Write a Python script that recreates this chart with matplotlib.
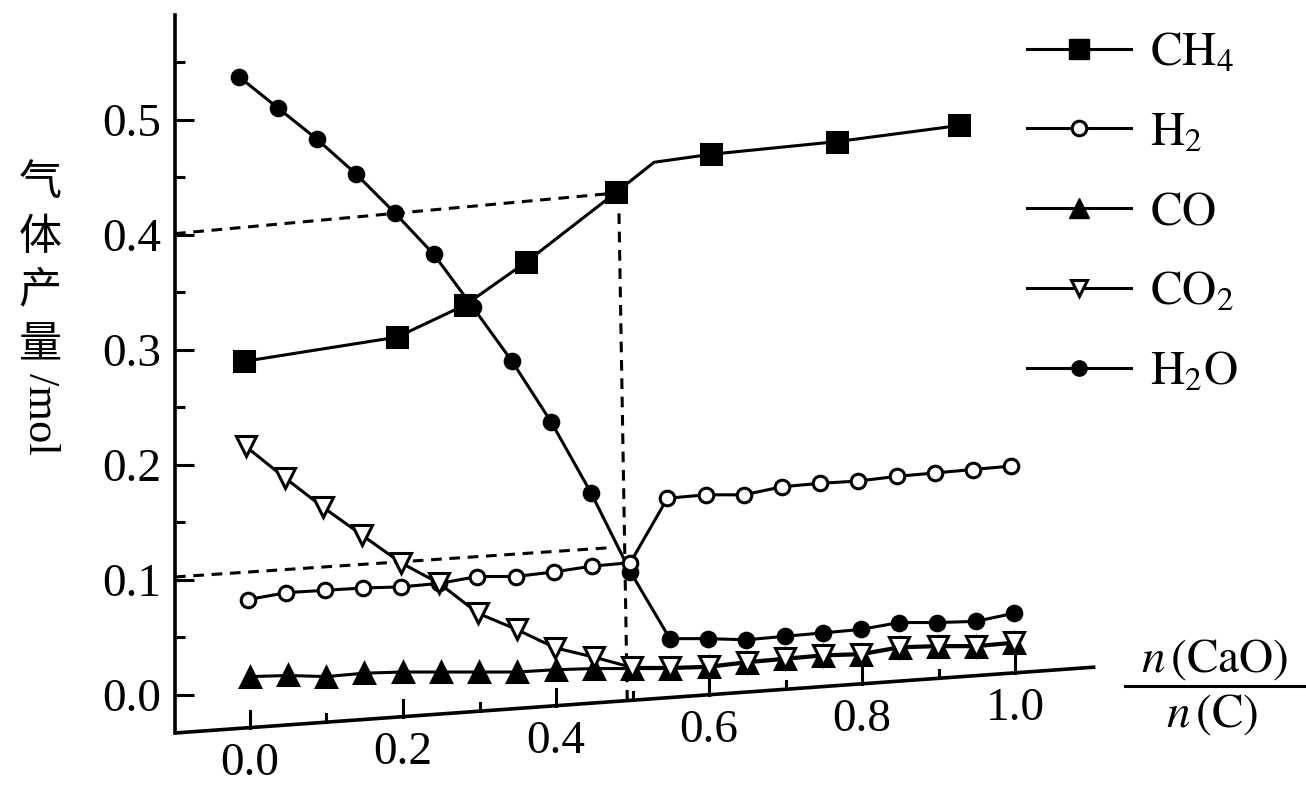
import matplotlib
matplotlib.use('Agg')
import matplotlib.pyplot as plt
from matplotlib.transforms import Affine2D
from matplotlib.lines import Line2D

plt.rcParams['font.family'] = ['Liberation Serif', 'DejaVu Serif']
plt.rcParams['mathtext.fontset'] = 'stix'

# ---------------- data ----------------
ratio = [0.0, 0.05, 0.1, 0.15, 0.2, 0.25, 0.3, 0.35, 0.4, 0.45, 0.5,
         0.55, 0.6, 0.65, 0.7, 0.75, 0.8, 0.85, 0.9, 0.95, 1.0]
h2o = [0.537, 0.510, 0.483, 0.453, 0.419, 0.383, 0.337, 0.290, 0.237, 0.176, 0.107,
       0.049, 0.049, 0.048, 0.051, 0.054, 0.057, 0.063, 0.063, 0.064, 0.071]
co2 = [0.216, 0.189, 0.163, 0.139, 0.115, 0.097, 0.071, 0.057, 0.041, 0.033, 0.024,
       0.024, 0.025, 0.029, 0.032, 0.035, 0.036, 0.042, 0.043, 0.043, 0.046]
h2 = [0.083, 0.089, 0.091, 0.093, 0.094, 0.097, 0.103, 0.103, 0.107, 0.112, 0.115,
      0.171, 0.174, 0.174, 0.181, 0.184, 0.186, 0.190, 0.193, 0.196, 0.199]
co = [0.016, 0.017, 0.016, 0.019, 0.020, 0.020, 0.020, 0.020, 0.022, 0.023, 0.023,
      0.023, 0.024, 0.028, 0.031, 0.034, 0.035, 0.041, 0.042, 0.042, 0.045]
ch4_x = [0.0, 0.2, 0.29, 0.37, 0.49, 0.54, 0.615, 0.78, 0.94]
ch4 = [0.290, 0.311, 0.339, 0.376, 0.437, 0.463, 0.470, 0.481, 0.495]
ch4_marked = [0, 1, 2, 3, 4, 6, 7, 8]

ytick_vals = [0.0, 0.1, 0.2, 0.3, 0.4, 0.5]
xtick_labels = ['0.0', '0.2', '0.4', '0.6', '0.8', '1.0']
xtick_vals = [0.0, 0.2, 0.4, 0.6, 0.8, 1.0]
xtick_all = [0.0, 0.1, 0.2, 0.3, 0.4, 0.5, 0.6, 0.7, 0.8, 0.9, 1.0]
legend_labels = [r'$\mathrm{CH_4}$', r'$\mathrm{H_2}$', r'$\mathrm{CO}$',
                 r'$\mathrm{CO_2}$', r'$\mathrm{H_2O}$']

# ---------------- figure ----------------
W, H = 1306, 786
fig = plt.figure(figsize=(W / 100, H / 100), dpi=100)
fig.patch.set_facecolor('white')
ax = fig.add_axes([175 / W, 1 - 733 / H, (1100 - 175) / W, (733 - 15) / H])
xmin, xmax = -0.098, 1.111
ymin, ymax = -0.033, 0.591
ax.set_xlim(xmin, xmax)
ax.set_ylim(ymin, ymax)

for s in ['top', 'right', 'bottom']:
    ax.spines[s].set_visible(False)
ax.spines['left'].set_linewidth(2.6)
ax.set_xticks([])
ax.set_yticks(ytick_vals)
ax.set_yticklabels([f'{v:.1f}' for v in ytick_vals])
ax.set_yticks([0.05, 0.15, 0.25, 0.35, 0.45, 0.55], minor=True)
ax.tick_params(axis='y', which='major', direction='in', length=14, width=2.2,
               labelsize=34, pad=10)
ax.tick_params(axis='y', which='minor', direction='in', length=7, width=2.2)

# slight horizontal shear of the scanned plot (higher points lean left)
fig.canvas.draw()
y0 = ax.transData.transform((0, 0))[1]
k = 0.017
shear = Affine2D.from_values(1, 0, -k, 1, k * y0, 0)
tr = ax.transData + shear

# slanted x baseline
def base(x):
    return -0.033 + (0.0243 + 0.033) / (1.105 - xmin) * (x - xmin)

ax.plot([xmin, 1.105], [base(xmin), base(1.105)], color='black', lw=2.6,
        clip_on=False, solid_capstyle='butt')
for xv in xtick_all:
    L = 0.0148 if round(xv * 10) % 2 == 0 else 0.007
    ax.plot([xv, xv], [base(xv), base(xv) + L], color='black', lw=2.2, clip_on=False)
for xv, lab in zip(xtick_vals, xtick_labels):
    ax.text(xv, base(xv) - 0.031, lab, fontsize=34, ha='center', va='center')

# dashed guide lines
dash = (0, (3.5, 2.5))
ax.plot([xmin, ch4_x[4]], [0.401, ch4[4]], ls=dash, color='black', lw=2.2)
ax.plot([xmin, 0.47], [0.1026, 0.128], ls=dash, color='black', lw=2.2)
ax.plot([0.493, 0.493], [base(0.493), ch4[4] - 0.012], ls=dash, color='black',
        lw=2.2, transform=tr)

lw = 2.2
common = dict(color='black', lw=lw, mec='black', mew=2.2, clip_on=False, transform=tr)
ax.plot(ratio, h2o, marker='o', ms=10.5, mfc='black', **common)
ax.plot(ch4_x, ch4, marker='s', ms=14, mfc='black', markevery=ch4_marked, **common)
ax.plot(ratio, h2, marker='o', ms=10.5, mfc='white', **common)
ax.plot(ratio, co, marker='^', ms=14, mfc='black', **common)
ax.plot(ratio, co2, marker='v', ms=14, mfc='white', **common)

# legend
handles = [
    Line2D([], [], color='black', lw=lw, marker='s', ms=14, mfc='black', mec='black'),
    Line2D([], [], color='black', lw=lw, marker='o', ms=10.5, mfc='white', mec='black', mew=2.2),
    Line2D([], [], color='black', lw=lw, marker='^', ms=14, mfc='black', mec='black'),
    Line2D([], [], color='black', lw=lw, marker='v', ms=11, mfc='white', mec='black', mew=2.2),
    Line2D([], [], color='black', lw=lw, marker='o', ms=11, mfc='black', mec='black'),
]
fig.legend(handles, legend_labels, loc='upper left',
           bbox_to_anchor=(1027 / W, 1 - 32 / H), frameon=False, fontsize=34,
           handlelength=2.2, handletextpad=0.4, labelspacing=0.77, borderpad=0,
           borderaxespad=0)

# y label: stacked CJK characters + rotated unit
for ch, yy in zip(['气', '体', '产', '量'], [183, 238, 290, 345]):
    fig.text(40 / W, 1 - yy / H, ch, fontsize=31, ha='center', va='center',
             family=['Noto Sans CJK SC', 'DejaVu Sans'])
fig.text(40 / W, 1 - 414 / H, '/mol', fontsize=32, ha='center', va='center',
         rotation=270)

# x label as a fraction
fig.text(1215 / W, 1 - 660 / H, r'$n\,(\mathrm{CaO})$', fontsize=34, ha='center',
         va='center')
fig.add_artist(Line2D([1125 / W, 1306 / W], [1 - 686 / H, 1 - 686 / H],
                      transform=fig.transFigure, color='black', lw=2.2))
fig.text(1212 / W, 1 - 715 / H, r'$n\,(\mathrm{C})$', fontsize=34, ha='center',
         va='center')

fig.savefig('out.png', dpi=100, facecolor='white')
